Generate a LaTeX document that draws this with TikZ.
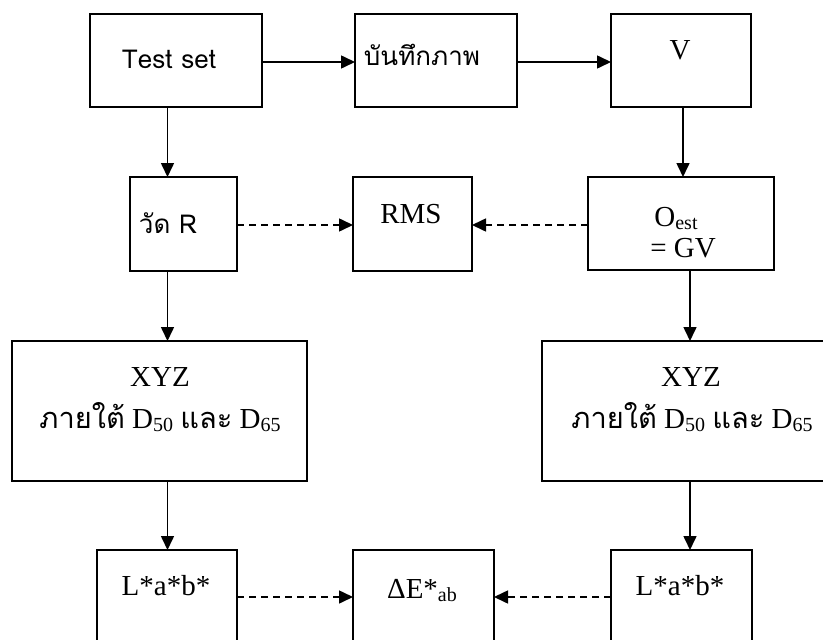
\documentclass[tikz,border=0pt]{standalone}
\usepackage{fontspec}
\setmainfont{Liberation Serif}
\newfontfamily\thai[Script=Thai]{Loma}
\usetikzlibrary{arrows.meta}
\tikzset{
  box/.style={draw, line width=1.6pt, inner sep=0pt, outer sep=0pt},
  arr/.style={line width=1.6pt, -{Triangle[length=14pt,width=13pt]}},
  darr/.style={arr, dash pattern=on 7pt off 5pt},
  lbl/.style={anchor=base, inner sep=0pt, font=\fontsize{29}{34}\selectfont},
  tlbl/.style={anchor=base, inner sep=0pt, font=\thai\fontsize{26}{30}\selectfont},
}
\newcommand\subx[1]{\raisebox{-3pt}{\fontsize{20}{20}\selectfont #1}}
\begin{document}
\begin{tikzpicture}[x=1pt,y=-1pt]
\useasboundingbox (0,0) rectangle (823,640);
\clip (0,0) rectangle (823,640);
\fill[white] (0,0) rectangle (823,640);
% boxes
\node[box, minimum width=172pt, minimum height=93pt] (ts) at (176,60.5) {};
\node[box, minimum width=162pt, minimum height=93pt] (bt) at (436,60.5) {};
\node[box, minimum width=140pt, minimum height=93pt] (v) at (681,60.5) {};
\node[box, minimum width=107pt, minimum height=94pt] (vr) at (183.5,224) {};
\node[box, minimum width=119pt, minimum height=94pt] (rms) at (412.5,224) {};
\node[box, minimum width=186pt, minimum height=93pt] (oe) at (681,223.5) {};
\node[box, minimum width=295pt, minimum height=140pt] (xl) at (159.5,411) {};
\node[box, minimum width=295pt, minimum height=140pt] (xr) at (689.5,411) {};
\node[box, minimum width=140pt, minimum height=150pt] (ll) at (167,625) {};
\node[box, minimum width=141pt, minimum height=150pt] (de) at (423.5,625) {};
\node[box, minimum width=141pt, minimum height=150pt] (lr) at (681.5,625) {};
% labels
\node[tlbl] (tst) at (169,68) {Test set};
\node[tlbl] (btt) at (422,65) {บันทึกภาพ};
\node[lbl] (vt) at (680,59) {V};
\node[tlbl] (vrt) at (168,233) {วัด R};
\node[lbl] (rmst) at (411,223) {RMS};
\node[lbl] (oet1) at (676,226) {O\subx{est}};
\node[lbl] (oet2) at (683,257) {= GV};
\node[lbl] (xlt1) at (160,386) {XYZ};
\node[lbl] (xlt2) at (160,428) {{\thai ภายใต้} D\subx{50} {\thai และ} D\subx{65}};
\node[lbl] (xrt1) at (691,386) {XYZ};
\node[lbl] (xrt2) at (692,428) {{\thai ภายใต้} D\subx{50} {\thai และ} D\subx{65}};
\node[lbl] (llt) at (166,595) {L*a*b*};
\node[lbl] (det) at (422,598) {ΔE*\subx{ab}};
\node[lbl] (lrt) at (680,595) {L*a*b*};
% guide coordinates
\coordinate (r1) at (0,62);
\coordinate (r2) at (0,225);
\coordinate (r3) at (0,597);
\coordinate (c1) at (167.5,0);
\coordinate (c2) at (683,0);
\coordinate (c3) at (690,0);
% connectors
\draw[arr] (ts.east |- r1) -- (bt.west |- r1);
\draw[arr] (bt.east |- r1) -- (v.west |- r1);
\draw[arr] (ts.south -| c1) -- (vr.north -| c1);
\draw[arr] (v.south -| c2) -- (oe.north -| c2);
\draw[darr] (vr.east |- r2) -- (rms.west |- r2);
\draw[darr] (oe.west |- r2) -- (rms.east |- r2);
\draw[arr] (vr.south -| c1) -- (xl.north -| c1);
\draw[arr] (oe.south -| c3) -- (xr.north -| c3);
\draw[arr] (xl.south -| c1) -- (ll.north -| c1);
\draw[arr] (xr.south -| c3) -- (lr.north -| c3);
\draw[darr] (ll.east |- r3) -- (de.west |- r3);
\draw[darr] (lr.west |- r3) -- (de.east |- r3);
\end{tikzpicture}
\end{document}
